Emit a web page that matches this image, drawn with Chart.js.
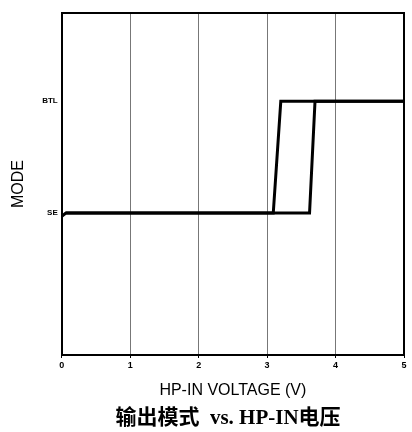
<!DOCTYPE html>
<html>
<head>
<meta charset="utf-8">
<script src="https://cdn.jsdelivr.net/npm/chart.js@4.4.0/dist/chart.umd.min.js"></script>
<style>
  html, body { margin: 0; padding: 0; background: #fff; }
  #wrap { position: relative; width: 412px; height: 432px; overflow: hidden; }
  #caption {
    position: absolute; left: 22px; top: 405px; width: 412px;
    text-align: center; white-space: pre;
    font: bold 21px/24px 'Liberation Serif', 'Noto Sans CJK SC', serif;
    color: #000;
  }
</style>
</head>
<body>
<div id="wrap">
  <canvas id="modeChart" width="412" height="432"></canvas>
  <div id="caption">输出模式  vs. HP-IN电压</div>
</div>
<script>
// mode levels (y values) and their labels
const modeLevels = [1, 2];
const modeLabels = ["SE", "BTL"];
const xTicks = [0, 1, 2, 3, 4, 5];

// rising sweep of HP-IN voltage
const riseVolts = [0, 0.06, 3.09, 3.2, 5];
const riseMode = [0.97, 1, 1, 2, 2];

// falling sweep of HP-IN voltage
const fallVolts = [5, 3.7, 3.62, 0.06];
const fallMode = [2, 2, 1, 1];

function toPoints(xs, ys) {
  return xs.map((x, i) => ({ x: x, y: ys[i] }));
}

const ctx = document.getElementById("modeChart");

new Chart(ctx, {
  type: "scatter",
  data: {
    datasets: [
      {
        label: "rise",
        data: toPoints(riseVolts, riseMode),
        showLine: true,
        borderColor: "#000",
        borderWidth: 3,
        pointRadius: 0,
        tension: 0,
      },
      {
        label: "fall",
        data: toPoints(fallVolts, fallMode),
        showLine: true,
        borderColor: "#000",
        borderWidth: 3,
        pointRadius: 0,
        tension: 0,
      },
    ],
  },
  options: {
    responsive: false,
    animation: false,
    layout: { padding: { top: 13, right: 8, left: 9, bottom: 32 } },
    plugins: {
      legend: { display: false },
      tooltip: { enabled: false },
    },
    scales: {
      x: {
        type: "linear",
        min: 0,
        max: 5,
        afterBuildTicks: (axis) => { axis.ticks = xTicks.map(v => ({ value: v })); },
        grid: { color: "#777", lineWidth: 1, tickLength: 3, drawTicks: true, tickColor: "#000" },
        border: { color: "#000", width: 2 },
        ticks: {
          color: "#000",
          padding: 2,
          font: { family: "'Liberation Sans', Arial", size: 9, weight: "bold" },
        },
        title: {
          display: true,
          text: "HP-IN VOLTAGE (V)",
          color: "#000",
          font: { family: "'Liberation Sans', Arial", size: 16 },
          padding: { top: 8, bottom: 0 },
        },
      },
      y: {
        type: "linear",
        min: -0.27,
        max: 2.79,
        afterBuildTicks: (axis) => { axis.ticks = modeLevels.map(v => ({ value: v })); },
        grid: { display: false, drawTicks: true, tickLength: 2 },
        border: { color: "#000", width: 2 },
        ticks: {
          color: "#000",
          padding: 2,
          font: { family: "'Liberation Sans', Arial", size: 8, weight: "bold" },
          callback: (v) => modeLabels[modeLevels.indexOf(v)],
        },
        title: {
          display: true,
          text: "MODE",
          color: "#000",
          font: { family: "'Liberation Sans', Arial", size: 16 },
          padding: { top: 0, bottom: 12 },
        },
      },
    },
  },
  plugins: [{
    // box the plot area on the top and right as well
    id: "frame",
    afterDraw(chart) {
      const a = chart.chartArea;
      const c = chart.ctx;
      c.save();
      c.strokeStyle = "#000";
      c.lineWidth = 2;
      c.beginPath();
      c.moveTo(a.left, a.top);
      c.lineTo(a.right, a.top);
      c.lineTo(a.right, a.bottom);
      c.stroke();
      c.restore();
    },
  }],
});
</script>
</body>
</html>
